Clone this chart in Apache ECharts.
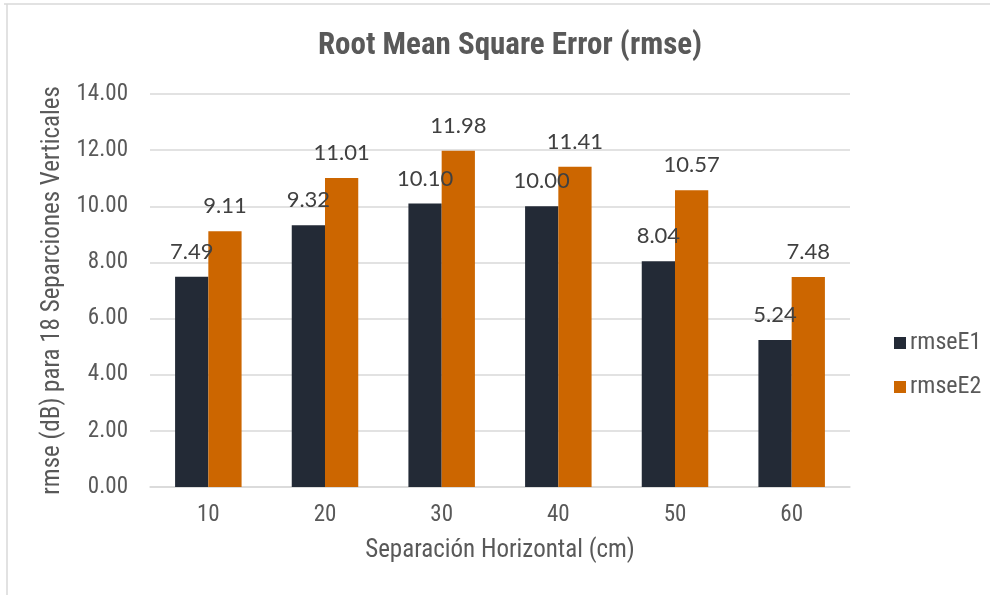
<!DOCTYPE html>
<html>
<head>
<meta charset="utf-8">
<script src="https://cdn.jsdelivr.net/npm/echarts@6/dist/echarts.min.js"></script>
<style>
  html, body { margin: 0; padding: 0; background: #fff; }
  #chart { width: 990px; height: 595px; }
</style>
</head>
<body>
<div id="chart"></div>
<script>
// data
const categories = ['10', '20', '30', '40', '50', '60'];
const rmseE1 = [7.49, 9.32, 10.10, 10.00, 8.04, 5.24];
const rmseE2 = [9.11, 11.01, 11.98, 11.41, 10.57, 7.48];
const seriesNames = ['rmseE1', 'rmseE2'];

const NARROW = '"Liberation Sans Narrow", "Arial Narrow", "Roboto Condensed", sans-serif';
const LABEL_FONT = 'Lato, "Open Sans", sans-serif';
const colors = ['#232a36', '#cc6600'];

const chart = echarts.init(document.getElementById('chart'));

function makeSeries(name, data, color) {
  return {
    name,
    type: 'bar',
    data,
    barGap: '0%',
    barCategoryGap: '43%',
    itemStyle: { color },
    label: {
      show: true,
      position: 'top',
      distance: 14,
      color: '#404040',
      fontFamily: LABEL_FONT,
      fontSize: 22,
      formatter: (p) => p.value.toFixed(2),
    },
  };
}

chart.setOption({
  animation: false,
  color: colors,
  title: {
    text: 'Root Mean Square Error (rmse)',
    left: 505,
    top: 26,
    textAlign: 'center',
    textStyle: {
      fontFamily: NARROW,
      fontWeight: 'bold',
      fontSize: 31,
      color: '#595959',
    },
  },
  legend: {
    orient: 'vertical',
    left: 889,
    top: 326,
    itemWidth: 12,
    itemHeight: 12,
    itemGap: 20,
    icon: 'rect',
    textStyle: { fontFamily: NARROW, fontSize: 24, color: '#595959', padding: [0, 0, 0, -1] },
    data: seriesNames,
  },
  grid: { left: 150, right: 140, top: 94, bottom: 108, containLabel: false },
  xAxis: {
    type: 'category',
    data: categories,
    name: 'Separación Horizontal (cm)',
    nameLocation: 'middle',
    nameGap: 51,
    nameTextStyle: { fontFamily: NARROW, fontSize: 25, color: '#595959' },
    axisLine: { lineStyle: { color: '#d9d9d9', width: 1.5 } },
    axisTick: { show: false },
    axisLabel: {
      margin: 17,
      fontFamily: NARROW,
      fontSize: 23,
      color: '#595959',
    },
  },
  yAxis: {
    type: 'value',
    min: 0,
    max: 14,
    interval: 2,
    name: 'rmse (dB) para 18 Separciones Verticales',
    nameLocation: 'middle',
    nameGap: 70,
    nameTextStyle: { fontFamily: NARROW, fontSize: 25, color: '#595959' },
    axisLine: { show: false },
    axisTick: { show: false },
    splitLine: { lineStyle: { color: '#d9d9d9', width: 1.5 } },
    axisLabel: {
      margin: 22,
      fontFamily: NARROW,
      fontSize: 23,
      color: '#595959',
      formatter: (v) => v.toFixed(2),
    },
  },
  graphic: [
    { type: 'line', shape: { x1: 4, y1: 4, x2: 990, y2: 4 }, style: { stroke: '#d9d9d9', lineWidth: 1.5 } },
    { type: 'line', shape: { x1: 7, y1: 4, x2: 7, y2: 595 }, style: { stroke: '#d9d9d9', lineWidth: 1.5 } },
  ],
  series: [
    makeSeries(seriesNames[0], rmseE1, colors[0]),
    makeSeries(seriesNames[1], rmseE2, colors[1]),
  ],
});
</script>
</body>
</html>
